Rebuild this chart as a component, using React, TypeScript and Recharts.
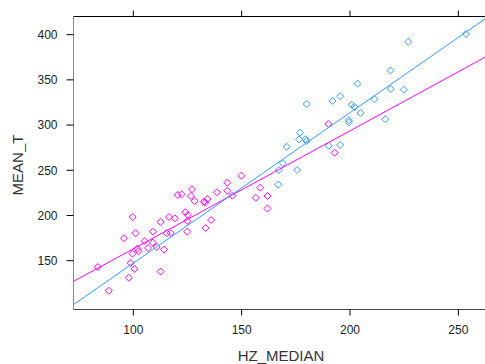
import { ScatterChart, Scatter, XAxis, YAxis } from "recharts";

// magenta group
const femaleHz = [
  83.6, 88.7, 95.7, 99.7, 101.0, 98.8, 97.9, 100.6, 99.6, 101.9, 102.4, 105.3,
  106.8, 109.1, 109.0, 110.8, 112.6, 112.6, 114.2, 115.4, 117.3, 116.5, 119.2,
  120.5, 122.3, 124.0, 125.2, 124.9, 124.9, 126.6, 127.1, 128.3, 132.5, 133.2,
  134.2, 133.4, 135.9, 138.6, 143.4, 143.4, 145.7, 149.9, 156.5, 158.6, 161.9,
  161.9, 190.0, 192.9,
];
const femaleMean = [
  143.0, 116.8, 174.8, 198.3, 180.3, 147.5, 131.2, 140.8, 157.7, 163.3, 160.4,
  171.8, 164.0, 182.1, 169.9, 165.2, 138.0, 192.8, 162.2, 180.4, 180.6, 198.3,
  196.9, 222.7, 223.4, 203.6, 200.6, 193.9, 182.1, 221.6, 229.0, 216.0, 215.3,
  214.2, 218.2, 186.2, 195.0, 225.7, 236.3, 227.4, 221.9, 244.0, 219.7, 230.8,
  221.6, 207.7, 301.2, 269.4,
];

// blue group
const maleHz = [
  166.9, 167.2, 175.6, 169.0, 170.8, 176.9, 176.5, 179.5, 179.9, 180.0, 190.2,
  195.5, 191.9, 195.5, 199.5, 199.5, 200.8, 202.1, 203.5, 204.9, 211.3, 216.3,
  218.7, 218.8, 224.8, 226.9, 253.5,
];
const maleMean = [
  234.1, 250.3, 250.3, 257.9, 276.0, 291.6, 284.1, 284.4, 282.4, 323.3, 277.1,
  278.0, 326.7, 331.9, 305.4, 303.1, 322.5, 320.0, 345.8, 313.4, 328.6, 306.5,
  360.4, 339.9, 339.2, 392.1, 400.8,
];

// fitted lines, read at the plot edges
const fitHz = [72.4, 262.3];
const femaleFit = [127.1, 375.0];
const maleFit = [101.4, 417.4];

const hzTicks = [100, 150, 200, 250];
const meanTicks = [150, 200, 250, 300, 350, 400];

const MAGENTA = "#ff00ff";
const BLUE = "#3399ff";
const FONT = "Liberation Sans, Arial, sans-serif";

const zip = (xs: number[], ys: number[]) =>
  xs.map((x, i) => ({ hz: x, mean: ys[i] }));

function Diamond(props: any) {
  const { cx, cy, stroke } = props;
  const r = 3.5;
  return (
    <path
      d={`M${cx},${cy - r}L${cx + r},${cy}L${cx},${cy + r}L${cx - r},${cy}Z`}
      fill="none"
      stroke={stroke}
      strokeWidth={1}
    />
  );
}

const tickStyle = { fontSize: 12, fill: "#222", fontFamily: FONT };

export default function App() {
  return (
    <div style={{ position: "absolute", left: 0, top: 0, width: 485, height: 364, background: "#fff" }}>
      <ScatterChart
        width={485}
        height={364}
        margin={{ top: 6.5, right: 0, bottom: 24.5, left: 13.5 }}
      >
        <XAxis
          xAxisId="top"
          orientation="top"
          type="number"
          dataKey="hz"
          domain={[72.4, 262.3]}
          ticks={hzTicks}
          allowDataOverflow
          height={10}
          tick={{ fill: "transparent", fontSize: 1 }}
          tickSize={6}
          axisLine={{ stroke: "#000" }}
          tickLine={{ stroke: "#000" }}
        />
        <XAxis
          type="number"
          dataKey="hz"
          domain={[72.4, 262.3]}
          ticks={hzTicks}
          allowDataOverflow
          height={30}
          tickSize={6}
          tickMargin={10}
          tick={tickStyle}
          axisLine={{ stroke: "#444" }}
          tickLine={{ stroke: "#000" }}
        />
        <YAxis
          type="number"
          dataKey="mean"
          domain={[96, 420.1]}
          ticks={meanTicks}
          allowDataOverflow
          width={60}
          tickSize={7}
          tickMargin={9}
          tick={tickStyle}
          axisLine={{ stroke: "#888" }}
          tickLine={{ stroke: "#000" }}
        />
        <Scatter
          data={zip(femaleHz, femaleMean)}
          isAnimationActive={false}
          shape={(p: any) => <Diamond {...p} stroke={MAGENTA} />}
        />
        <Scatter
          data={zip(maleHz, maleMean)}
          isAnimationActive={false}
          shape={(p: any) => <Diamond {...p} stroke={BLUE} />}
        />
        <Scatter
          xAxisId="top"
          data={zip(fitHz, femaleFit)}
          isAnimationActive={false}
          line={{ stroke: MAGENTA, strokeWidth: 1 }}
          shape={() => <g />}
        />
        <Scatter
          xAxisId="top"
          data={zip(fitHz, maleFit)}
          isAnimationActive={false}
          line={{ stroke: BLUE, strokeWidth: 1 }}
          shape={() => <g />}
        />
      </ScatterChart>
      <svg
        width={485}
        height={364}
        style={{ position: "absolute", left: 0, top: 0, pointerEvents: "none" }}
      >
        <text
          transform="translate(23.3,165) rotate(-90)"
          textAnchor="middle"
          fontSize={15}
          fill="#333"
          fontFamily={FONT}
        >
          MEAN_T
        </text>
        <text
          x={281}
          y={361}
          textAnchor="middle"
          fontSize={15}
          fill="#333"
          fontFamily={FONT}
        >
          HZ_MEDIAN
        </text>
      </svg>
    </div>
  );
}
